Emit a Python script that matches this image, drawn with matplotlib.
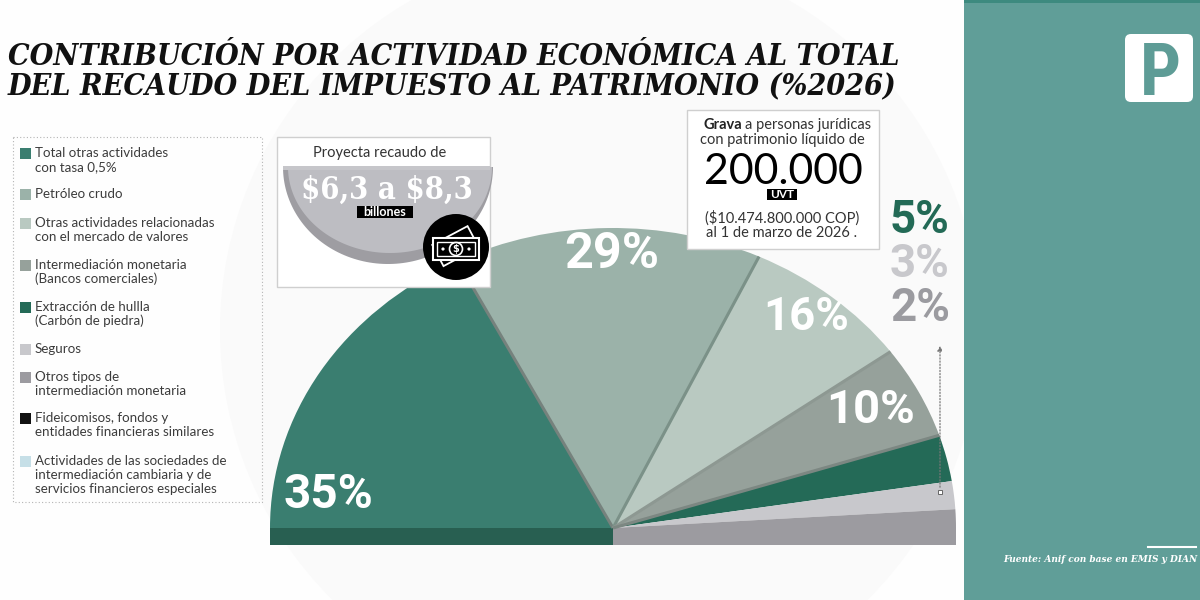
import matplotlib
matplotlib.use("Agg")
import matplotlib.pyplot as plt
from matplotlib import patches, font_manager as fm
from matplotlib.transforms import Affine2D
import numpy as np

# ---------------- data ----------------
categories = [
    "Total otras actividades\ncon tasa 0,5%",
    "Petróleo crudo",
    "Otras actividades relacionadas\ncon el mercado de valores",
    "Intermediación monetaria\n(Bancos comerciales)",
    "Extracción de hullla\n(Carbón de piedra)",
    "Seguros",
    "Otros tipos de\nintermediación monetaria",
    "Fideicomisos, fondos y\nentidades financieras similares",
    "Actividades de las sociedades de\nintermediación cambiaria y de\nservicios financieros especiales",
]
shares = [35, 29, 16, 10, 5, 3, 2, 0, 0]
colors = ["#3a7e70", "#9bb2a9", "#b9c9c1", "#96a19b", "#246a57",
          "#c8c8cc", "#9c9ba0", "#111111", "#c6dfe7"]
sep_colors = ["#76827d", "#7b9188", "#8d9892", "#7c8782", None, None]

title_lines = ["CONTRIBUCIÓN POR ACTIVIDAD ECONÓMICA AL TOTAL",
               "DEL RECAUDO DEL IMPUESTO AL PATRIMONIO (%2026)"]
source = "Fuente: Anif con base en EMIS y DIAN"


def pick(*names):
    for n in names:
        try:
            fm.findfont(fm.FontProperties(family=n), fallback_to_default=False)
            return n
        except Exception:
            pass
    return "DejaVu Sans"


SERIF = pick("Liberation Serif", "DejaVu Serif")
SERIF_STRETCH = "normal"
try:
    pth = fm.findfont(fm.FontProperties(family="DejaVu Serif", stretch="condensed",
                                        style="italic", weight="bold"),
                      fallback_to_default=False)
    if "Condensed" in pth:
        SERIF = "DejaVu Serif"
        SERIF_STRETCH = "condensed"
except Exception:
    pass
SANS = pick("Lato", "Open Sans", "DejaVu Sans")
BIG = pick("Roboto", "DejaVu Sans")
NARROW = pick("Roboto Condensed", "Liberation Sans Narrow", "Roboto", "DejaVu Sans")

fig = plt.figure(figsize=(12, 6), dpi=100)
fig.patch.set_facecolor("#fefefe")
bg = fig.add_axes([0, 0, 1, 1], zorder=0)
bg.set_xlim(0, 1200)
bg.set_ylim(600, 0)
bg.axis("off")
bg.add_patch(patches.Circle((600, 330), 380, color="#fafafa", lw=0))

ax = fig.add_axes([0, 0, 1, 1], zorder=2)
ax.set_xlim(0, 1200)
ax.set_ylim(600, 0)
ax.axis("off")
ax.patch.set_alpha(0)
renderer = fig.canvas.get_renderer()


def fit(t, w):
    bw = t.get_window_extent(renderer).width
    t.set_fontsize(t.get_fontsize() * w / bw)
    return t


# ---------------- right panel ----------------
ax.add_patch(patches.Rectangle((964, 0), 236, 600, color="#609e98", zorder=1, lw=0))
ax.add_patch(patches.Rectangle((964, 0), 236, 3, color="#3d8a7f", zorder=2, lw=0))
ax.add_patch(patches.FancyBboxPatch((1128, 37), 62, 62,
                                    boxstyle="round,pad=3,rounding_size=6",
                                    fc="white", ec="none", zorder=3))
ax.text(1160, 95, "P", color="#5e9c96", fontsize=52, fontweight="bold",
        family=NARROW, ha="center", va="baseline", zorder=4)
ax.plot([1148, 1196], [547, 547], color="white", lw=1.5, zorder=3)
t = ax.text(1197, 562, source, color="white", family=SERIF, stretch=SERIF_STRETCH,
            style="italic", fontweight="bold", fontsize=9, ha="right", va="baseline",
            zorder=4)
fit(t, 195)

# ---------------- title ----------------
t1 = ax.text(8, 65, title_lines[0], family=SERIF, stretch=SERIF_STRETCH, style="italic",
             fontweight="bold", fontsize=28, color="#111111", ha="left", va="baseline",
             zorder=5)
fit(t1, 892)
ax.text(8, 95, title_lines[1], family=SERIF, stretch=SERIF_STRETCH, style="italic",
        fontweight="bold", fontsize=t1.get_fontsize(), color="#111111", ha="left",
        va="baseline", zorder=5)

# ---------------- legend ----------------
ax.add_patch(patches.Rectangle((13, 137), 249, 365, fc="none", ec="#b5b5b5",
                               lw=0.8, ls=(0, (1, 2)), zorder=3))
first_y = [153, 194, 223, 265, 307, 349, 377, 418, 461]
probe = ax.text(35, 0, "Actividades de las sociedades de", family=SANS, fontsize=10)
fit(probe, 191)
lfs = probe.get_fontsize()
probe.remove()
for cat, col, y0 in zip(categories, colors, first_y):
    ax.add_patch(patches.Rectangle((20, y0 - 5.5), 11, 11, color=col, lw=0, zorder=4))
    for i, line in enumerate(cat.split("\n")):
        ax.text(35, y0 + 14 * i, line, family=SANS, fontsize=lfs, color="#3c3c3c",
                ha="left", va="center", zorder=4)

# ---------------- box 1 : recaudo ----------------
ax.add_patch(patches.Rectangle((277, 137), 213, 150, fc="white", ec="#cfcfcf", lw=1, zorder=3))
tt = np.linspace(0, np.pi, 100)
outer = np.column_stack([388 + 105 * np.cos(tt), 167 + 97 * np.sin(tt)])
inner = np.column_stack([390 + 102 * np.cos(tt), 167 + 86 * np.sin(tt)])
ax.add_patch(patches.Polygon(outer, closed=True, fc="#9e9da2", ec="none", zorder=4))
ax.add_patch(patches.Polygon(inner, closed=True, fc="#bdbdc2", ec="none", zorder=4))
ax.add_patch(patches.Rectangle((283, 166), 207, 4, fc="#c6c6ca", lw=0, zorder=4))
ax.text(380, 157, "Proyecta recaudo de", family=SANS, fontsize=10.5, color="#333333",
        ha="center", va="baseline", zorder=5)
tm = ax.text(387, 199, "$6,3 a $8,3", family=SERIF, stretch=SERIF_STRETCH,
             fontweight="bold", fontsize=30, color="white", ha="center", va="baseline",
             zorder=5, parse_math=False)
fit(tm, 172)
ax.add_patch(patches.Rectangle((357, 206), 56, 12, fc="black", lw=0, zorder=5))
ax.text(385, 212.5, "billones", family=SANS, fontweight="bold", fontsize=9, color="white",
        ha="center", va="center", zorder=6)
# money icon
ax.add_patch(patches.Circle((456, 247), 33, fc="black", ec="none", zorder=6))
rot_back = Affine2D().rotate_deg_around(456, 247, -28) + ax.transData
ax.add_patch(patches.Rectangle((436, 234), 40, 24, fc="black", ec="white", lw=1.3,
                               zorder=7, transform=rot_back))
ax.add_patch(patches.Rectangle((433, 238), 46, 22, fc="black", ec="white", lw=1.5, zorder=8))
ax.add_patch(patches.Rectangle((437, 242), 38, 14, fc="black", ec="white", lw=1.0, zorder=8))
ax.add_patch(patches.Circle((456, 249), 6.5, fc="black", ec="white", lw=1.2, zorder=9))
ax.text(456, 249.5, "$", color="white", fontsize=7, fontweight="bold", ha="center",
        va="center", zorder=10, family="DejaVu Sans", parse_math=False)
ax.add_patch(patches.Circle((443, 249), 1.6, fc="white", lw=0, zorder=9))
ax.add_patch(patches.Circle((469, 249), 1.6, fc="white", lw=0, zorder=9))

# ---------------- box 2 : grava ----------------
ax.add_patch(patches.Rectangle((687, 110), 192, 139, fc="white", ec="#cfcfcf", lw=1, zorder=3))
g1 = ax.text(703, 129, "Grava", family=SANS, fontweight="bold", fontsize=10.5,
             color="#222222", ha="left", va="baseline", zorder=5)
gw = g1.get_window_extent(renderer).width
ax.text(703 + gw + 3, 129, "a personas jurídicas", family=SANS, fontsize=10.5,
        color="#333333", ha="left", va="baseline", zorder=5)
ax.text(782, 144, "con patrimonio líquido de", family=SANS, fontsize=10.5,
        color="#333333", ha="center", va="baseline", zorder=5)
tb = ax.text(783, 184, "200.000", family=SANS, fontsize=32, color="black",
             ha="center", va="baseline", zorder=5)
fit(tb, 160)
ax.add_patch(patches.Rectangle((767, 189), 30, 11, fc="black", lw=0, zorder=5))
ax.text(782, 195, "UVT", family=SANS, fontweight="bold", fontsize=8.5, color="white",
        ha="center", va="center", zorder=6)
ax.text(782, 223, "($10.474.800.000 COP)", family=SANS, fontsize=10.5, color="#333333",
        ha="center", va="baseline", zorder=5, parse_math=False)
ax.text(782, 237, "al 1 de marzo de 2026 .", family=SANS, fontsize=10.5, color="#333333",
        ha="center", va="baseline", zorder=5)

# ---------------- half pie ----------------
cx, cy, rx, ry = 613, 528, 343, 300
pax = fig.add_axes([(cx - rx) / 1200, (600 - (cy + 0.1 * ry)) / 600,
                    2 * rx / 1200, 1.15 * ry / 600], zorder=1)
vals = [v for v in shares if v > 0]
cols = [c for v, c in zip(shares, colors) if v > 0]
wedges, _ = pax.pie(vals + [sum(vals)], colors=cols + ["white"], startangle=180,
                    counterclock=False, radius=1, wedgeprops=dict(linewidth=0))
wedges[-1].set_visible(False)
pax.set_xlim(-1, 1)
pax.set_ylim(-0.1, 1.05)
pax.set_aspect("auto")
pax.axis("off")
pax.patch.set_alpha(0)
cum = np.cumsum(vals)
for k, sc in enumerate(sep_colors):
    if sc is None:
        continue
    th = np.deg2rad(180 - 180 * cum[k] / sum(vals))
    pax.plot([0, np.cos(th)], [0, np.sin(th)], color=sc, lw=2.2, solid_capstyle="butt")
pax.add_patch(patches.Rectangle((-1, -0.057), 1, 0.057, color="#285f51", lw=0))
pax.add_patch(patches.Rectangle((0, -0.057), 1, 0.057, color="#9c9ba0", lw=0))

# percentage labels
label_spec = [  # (x center, baseline, width, color)
    (328, 508, 90, "white"),
    (612, 268, 95, "white"),
    (806, 330, 86, "white"),
    (871, 423, 89, "white"),
    (920, 233, 60, "#236a56"),
    (920, 277, 60, "#c8c8cc"),
    (920, 321, 60, "#9b9ba0"),
]
for v, (x, yb, w, c) in zip(vals, label_spec):
    tl = ax.text(x, yb, f"{v}%", family=BIG, fontweight="bold", fontsize=34, color=c,
                 ha="center", va="baseline", zorder=20)
    fit(tl, w)

# dotted arrow and marker
ax.annotate("", xy=(940, 343), xytext=(940, 490),
            arrowprops=dict(arrowstyle="-|>", color="#777777", lw=0.9, ls=(0, (1, 1.5)),
                            mutation_scale=7), zorder=21)
ax.add_patch(patches.Rectangle((938, 490), 4, 4, fc="white", ec="#666666", lw=0.7, zorder=22))

fig.savefig("out.png", dpi=100, facecolor=fig.get_facecolor())
